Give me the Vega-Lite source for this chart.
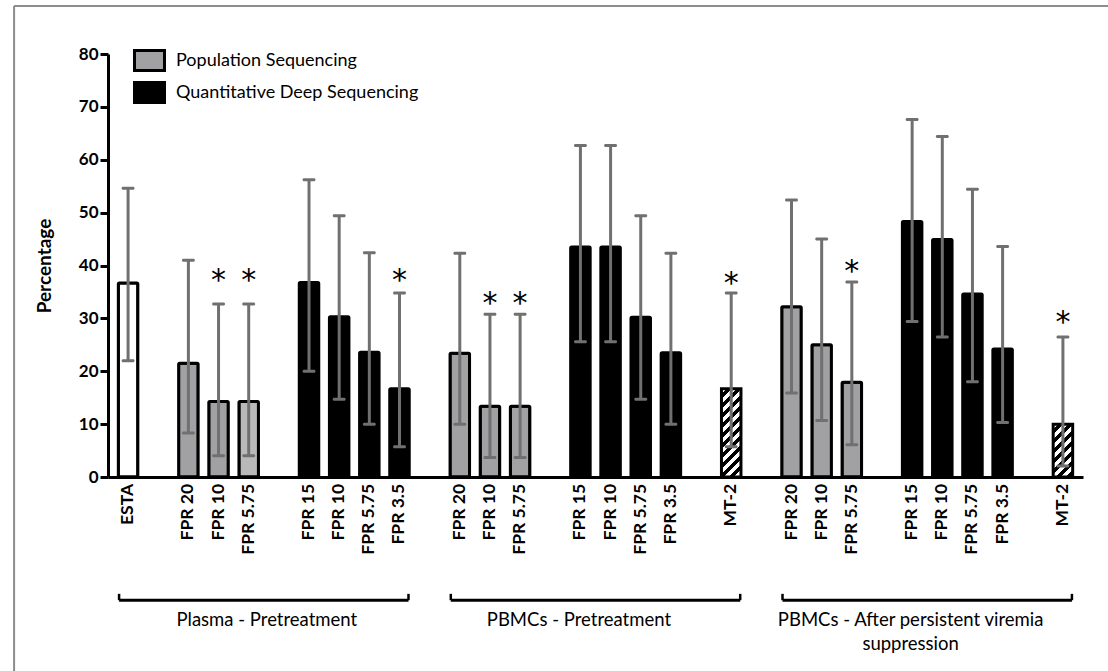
{
  "$schema": "https://vega.github.io/schema/vega-lite/v6.json",
  "width": 975,
  "height": 423,
  "autosize": {"type": "none"},
  "padding": {"left": 108, "top": 54, "right": 25, "bottom": 194},
  "background": "white",
  "config": {"view": {"stroke": null}, "font": "Lato"},
  "datasets": {
    "bars": [
      {"slot": 0, "label": "ESTA", "group": "Plasma - Pretreatment", "method": "ESTA", "value": 36.7, "lo": 22.0, "hi": 54.6, "star": null},
      {"slot": 2, "label": "FPR 20", "group": "Plasma - Pretreatment", "method": "Population Sequencing", "value": 21.5, "lo": 8.3, "hi": 41.0, "star": null},
      {"slot": 3, "label": "FPR 10", "group": "Plasma - Pretreatment", "method": "Population Sequencing", "value": 14.3, "lo": 4.0, "hi": 32.7, "star": 38.8},
      {"slot": 4, "label": "FPR 5.75", "group": "Plasma - Pretreatment", "method": "Population Sequencing", "value": 14.3, "lo": 4.0, "hi": 32.7, "star": 38.8},
      {"slot": 6, "label": "FPR 15", "group": "Plasma - Pretreatment", "method": "Quantitative Deep Sequencing", "value": 36.8, "lo": 20.0, "hi": 56.2, "star": null},
      {"slot": 7, "label": "FPR 10", "group": "Plasma - Pretreatment", "method": "Quantitative Deep Sequencing", "value": 30.3, "lo": 14.7, "hi": 49.4, "star": null},
      {"slot": 8, "label": "FPR 5.75", "group": "Plasma - Pretreatment", "method": "Quantitative Deep Sequencing", "value": 23.6, "lo": 10.0, "hi": 42.4, "star": null},
      {"slot": 9, "label": "FPR 3.5", "group": "Plasma - Pretreatment", "method": "Quantitative Deep Sequencing", "value": 16.7, "lo": 5.7, "hi": 34.8, "star": 38.8},
      {"slot": 11, "label": "FPR 20", "group": "PBMCs - Pretreatment", "method": "Population Sequencing", "value": 23.4, "lo": 10.0, "hi": 42.3, "star": null},
      {"slot": 12, "label": "FPR 10", "group": "PBMCs - Pretreatment", "method": "Population Sequencing", "value": 13.4, "lo": 3.7, "hi": 30.8, "star": 34.4},
      {"slot": 13, "label": "FPR 5.75", "group": "PBMCs - Pretreatment", "method": "Population Sequencing", "value": 13.4, "lo": 3.7, "hi": 30.8, "star": 34.4},
      {"slot": 15, "label": "FPR 15", "group": "PBMCs - Pretreatment", "method": "Quantitative Deep Sequencing", "value": 43.5, "lo": 25.6, "hi": 62.7, "star": null},
      {"slot": 16, "label": "FPR 10", "group": "PBMCs - Pretreatment", "method": "Quantitative Deep Sequencing", "value": 43.5, "lo": 25.6, "hi": 62.7, "star": null},
      {"slot": 17, "label": "FPR 5.75", "group": "PBMCs - Pretreatment", "method": "Quantitative Deep Sequencing", "value": 30.2, "lo": 14.7, "hi": 49.4, "star": null},
      {"slot": 18, "label": "FPR 3.5", "group": "PBMCs - Pretreatment", "method": "Quantitative Deep Sequencing", "value": 23.5, "lo": 10.0, "hi": 42.3, "star": null},
      {"slot": 20, "label": "MT-2", "group": "PBMCs - Pretreatment", "method": "MT-2", "value": 16.7, "lo": 5.7, "hi": 34.8, "star": 38.2},
      {"slot": 22, "label": "FPR 20", "group": "PBMCs - After persistent viremia suppression", "method": "Population Sequencing", "value": 32.2, "lo": 15.9, "hi": 52.4, "star": null},
      {"slot": 23, "label": "FPR 10", "group": "PBMCs - After persistent viremia suppression", "method": "Population Sequencing", "value": 25.0, "lo": 10.7, "hi": 45.0, "star": null},
      {"slot": 24, "label": "FPR 5.75", "group": "PBMCs - After persistent viremia suppression", "method": "Population Sequencing", "value": 17.9, "lo": 6.1, "hi": 36.9, "star": 40.5},
      {"slot": 26, "label": "FPR 15", "group": "PBMCs - After persistent viremia suppression", "method": "Quantitative Deep Sequencing", "value": 48.3, "lo": 29.4, "hi": 67.6, "star": null},
      {"slot": 27, "label": "FPR 10", "group": "PBMCs - After persistent viremia suppression", "method": "Quantitative Deep Sequencing", "value": 44.9, "lo": 26.5, "hi": 64.4, "star": null},
      {"slot": 28, "label": "FPR 5.75", "group": "PBMCs - After persistent viremia suppression", "method": "Quantitative Deep Sequencing", "value": 34.6, "lo": 18.0, "hi": 54.4, "star": null},
      {"slot": 29, "label": "FPR 3.5", "group": "PBMCs - After persistent viremia suppression", "method": "Quantitative Deep Sequencing", "value": 24.2, "lo": 10.3, "hi": 43.6, "star": null},
      {"slot": 31, "label": "MT-2", "group": "PBMCs - After persistent viremia suppression", "method": "MT-2", "value": 10.0, "lo": 2.1, "hi": 26.5, "star": 30.8}
    ],
    "groups": [
      {"group": "Plasma - Pretreatment", "text": "Plasma - Pretreatment", "first": 0, "last": 9, "center": 4.6},
      {"group": "PBMCs - Pretreatment", "text": "PBMCs - Pretreatment", "first": 11, "last": 20, "center": 14.95},
      {"group": "PBMCs - After persistent viremia suppression", "text": "PBMCs - After persistent viremia\nsuppression", "first": 22, "last": 31, "center": 25.95}
    ]
  },
  "layer": [
    {
      "data": {"name": "bars"},
      "transform": [{"filter": "datum.method !== 'MT-2'"}],
      "mark": {"type": "bar", "size": 19.5, "stroke": "black", "strokeWidth": 3, "cornerRadius": 1},
      "encoding": {
        "x": {
          "field": "slot", "type": "quantitative",
          "scale": {"domain": [-0.5, 31.5]},
          "axis": {"ticks": false, "labels": false, "grid": false, "title": null, "domain": true, "domainColor": "black", "domainWidth": 3}
        },
        "y": {
          "field": "value", "type": "quantitative",
          "scale": {"domain": [0, 80]},
          "axis": {
            "values": [0, 10, 20, 30, 40, 50, 60, 70, 80],
            "grid": false, "title": "Percentage", "domain": true,
            "domainColor": "black", "domainWidth": 3,
            "ticks": true, "tickColor": "black", "tickWidth": 3, "tickSize": 8,
            "labels": true, "labelFont": "Lato", "labelFontSize": 17, "labelFontWeight": "bold", "labelColor": "black", "labelPadding": 2,
            "titleFont": "Lato", "titleFontSize": 19, "titleFontWeight": "bold", "titleColor": "black", "titlePadding": 24
          }
        },
        "fill": {
          "field": "method", "type": "nominal",
          "scale": {"domain": ["Population Sequencing", "Quantitative Deep Sequencing", "ESTA"], "range": ["#a1a1a3", "#000000", "#ffffff"]},
          "condition": {"test": "datum.slot === 4", "value": "#b9b9b9"},
          "legend": {
            "values": ["Population Sequencing", "Quantitative Deep Sequencing"],
            "title": null, "orient": "none", "legendX": 30, "legendY": -5,
            "padding": 0,
            "symbolType": "M-1.5,-1H1.5V1H-1.5Z", "symbolSize": 400,
            "symbolStrokeColor": "black", "symbolStrokeWidth": 3, "symbolOpacity": 1,
            "labelFont": "Lato", "labelFontSize": 18, "labelColor": "black", "labelOffset": 15, "labelLimit": 0,
            "rowPadding": -1
          }
        }
      }
    },
    {
      "data": {"values": [{}]},
      "mark": {"type": "rule", "color": "#8c8c8c", "strokeWidth": 2},
      "encoding": {
        "x": {"datum": -3.78, "type": "quantitative", "scale": {"domain": [-0.5, 31.5]}},
        "y": {"datum": 89.1, "type": "quantitative", "scale": {"domain": [0, 80]}},
        "y2": {"datum": -40}
      }
    },
    {
      "data": {"values": [{}]},
      "mark": {"type": "rule", "color": "#8c8c8c", "strokeWidth": 2},
      "encoding": {
        "x": {"datum": -3.78, "type": "quantitative", "scale": {"domain": [-0.5, 31.5]}},
        "x2": {"datum": 40},
        "y": {"datum": 89.1, "type": "quantitative", "scale": {"domain": [0, 80]}}
      }
    },
    {
      "data": {"name": "bars"},
      "transform": [{"filter": "datum.slot === 20"}],
      "mark": {
        "type": "bar", "size": 19.5, "stroke": "black", "strokeWidth": 3,
        "fill": {"gradient": "linear", "x1": 0, "y1": 0, "x2": 0.286, "y2": 1.296, "stops": [
          {"offset": 0, "color": "white"}, {"offset": 0.0458, "color": "white"}, {"offset": 0.0458, "color": "black"}, {"offset": 0.0833, "color": "black"},
          {"offset": 0.0833, "color": "white"}, {"offset": 0.1292, "color": "white"}, {"offset": 0.1292, "color": "black"}, {"offset": 0.1667, "color": "black"},
          {"offset": 0.1667, "color": "white"}, {"offset": 0.2125, "color": "white"}, {"offset": 0.2125, "color": "black"}, {"offset": 0.25, "color": "black"},
          {"offset": 0.25, "color": "white"}, {"offset": 0.2958, "color": "white"}, {"offset": 0.2958, "color": "black"}, {"offset": 0.3333, "color": "black"},
          {"offset": 0.3333, "color": "white"}, {"offset": 0.3792, "color": "white"}, {"offset": 0.3792, "color": "black"}, {"offset": 0.4167, "color": "black"},
          {"offset": 0.4167, "color": "white"}, {"offset": 0.4625, "color": "white"}, {"offset": 0.4625, "color": "black"}, {"offset": 0.5, "color": "black"},
          {"offset": 0.5, "color": "white"}, {"offset": 0.5458, "color": "white"}, {"offset": 0.5458, "color": "black"}, {"offset": 0.5833, "color": "black"},
          {"offset": 0.5833, "color": "white"}, {"offset": 0.6292, "color": "white"}, {"offset": 0.6292, "color": "black"}, {"offset": 0.6667, "color": "black"},
          {"offset": 0.6667, "color": "white"}, {"offset": 0.7125, "color": "white"}, {"offset": 0.7125, "color": "black"}, {"offset": 0.75, "color": "black"},
          {"offset": 0.75, "color": "white"}, {"offset": 0.7958, "color": "white"}, {"offset": 0.7958, "color": "black"}, {"offset": 0.8333, "color": "black"},
          {"offset": 0.8333, "color": "white"}, {"offset": 0.8792, "color": "white"}, {"offset": 0.8792, "color": "black"}, {"offset": 0.9167, "color": "black"},
          {"offset": 0.9167, "color": "white"}, {"offset": 0.9625, "color": "white"}, {"offset": 0.9625, "color": "black"}, {"offset": 1, "color": "black"}
        ]}
      },
      "encoding": {
        "x": {"field": "slot", "type": "quantitative", "scale": {"domain": [-0.5, 31.5]}},
        "y": {"field": "value", "type": "quantitative", "scale": {"domain": [0, 80]}}
      }
    },
    {
      "data": {"name": "bars"},
      "transform": [{"filter": "datum.slot === 31"}],
      "mark": {
        "type": "bar", "size": 19.5, "stroke": "black", "strokeWidth": 3,
        "fill": {"gradient": "linear", "x1": 0, "y1": 0, "x2": 0.736, "y2": 1.997, "stops": [
          {"offset": 0, "color": "white"}, {"offset": 0.0458, "color": "white"}, {"offset": 0.0458, "color": "black"}, {"offset": 0.0833, "color": "black"},
          {"offset": 0.0833, "color": "white"}, {"offset": 0.1292, "color": "white"}, {"offset": 0.1292, "color": "black"}, {"offset": 0.1667, "color": "black"},
          {"offset": 0.1667, "color": "white"}, {"offset": 0.2125, "color": "white"}, {"offset": 0.2125, "color": "black"}, {"offset": 0.25, "color": "black"},
          {"offset": 0.25, "color": "white"}, {"offset": 0.2958, "color": "white"}, {"offset": 0.2958, "color": "black"}, {"offset": 0.3333, "color": "black"},
          {"offset": 0.3333, "color": "white"}, {"offset": 0.3792, "color": "white"}, {"offset": 0.3792, "color": "black"}, {"offset": 0.4167, "color": "black"},
          {"offset": 0.4167, "color": "white"}, {"offset": 0.4625, "color": "white"}, {"offset": 0.4625, "color": "black"}, {"offset": 0.5, "color": "black"},
          {"offset": 0.5, "color": "white"}, {"offset": 0.5458, "color": "white"}, {"offset": 0.5458, "color": "black"}, {"offset": 0.5833, "color": "black"},
          {"offset": 0.5833, "color": "white"}, {"offset": 0.6292, "color": "white"}, {"offset": 0.6292, "color": "black"}, {"offset": 0.6667, "color": "black"},
          {"offset": 0.6667, "color": "white"}, {"offset": 0.7125, "color": "white"}, {"offset": 0.7125, "color": "black"}, {"offset": 0.75, "color": "black"},
          {"offset": 0.75, "color": "white"}, {"offset": 0.7958, "color": "white"}, {"offset": 0.7958, "color": "black"}, {"offset": 0.8333, "color": "black"},
          {"offset": 0.8333, "color": "white"}, {"offset": 0.8792, "color": "white"}, {"offset": 0.8792, "color": "black"}, {"offset": 0.9167, "color": "black"},
          {"offset": 0.9167, "color": "white"}, {"offset": 0.9625, "color": "white"}, {"offset": 0.9625, "color": "black"}, {"offset": 1, "color": "black"}
        ]}
      },
      "encoding": {
        "x": {"field": "slot", "type": "quantitative", "scale": {"domain": [-0.5, 31.5]}},
        "y": {"field": "value", "type": "quantitative", "scale": {"domain": [0, 80]}}
      }
    },
    {
      "data": {"name": "bars"},
      "mark": {"type": "rule", "color": "#707070", "strokeWidth": 3},
      "encoding": {
        "x": {"field": "slot", "type": "quantitative", "scale": {"domain": [-0.5, 31.5]}},
        "y": {"field": "lo", "type": "quantitative", "scale": {"domain": [0, 80]}},
        "y2": {"field": "hi"}
      }
    },
    {
      "data": {"name": "bars"},
      "mark": {"type": "tick", "orient": "horizontal", "color": "#707070", "size": 13, "thickness": 3, "opacity": 1, "cornerRadius": 1.5},
      "encoding": {
        "x": {"field": "slot", "type": "quantitative", "scale": {"domain": [-0.5, 31.5]}},
        "y": {"field": "lo", "type": "quantitative", "scale": {"domain": [0, 80]}}
      }
    },
    {
      "data": {"name": "bars"},
      "mark": {"type": "tick", "orient": "horizontal", "color": "#707070", "size": 13, "thickness": 3, "opacity": 1, "cornerRadius": 1.5},
      "encoding": {
        "x": {"field": "slot", "type": "quantitative", "scale": {"domain": [-0.5, 31.5]}},
        "y": {"field": "hi", "type": "quantitative", "scale": {"domain": [0, 80]}}
      }
    },
    {
      "data": {"name": "bars"},
      "transform": [{"filter": "datum.star != null"}],
      "mark": {"type": "text", "text": "*", "font": "DejaVu Sans", "fontSize": 30, "color": "black", "baseline": "middle", "align": "center", "dy": 9},
      "encoding": {
        "x": {"field": "slot", "type": "quantitative", "scale": {"domain": [-0.5, 31.5]}},
        "y": {"field": "star", "type": "quantitative", "scale": {"domain": [0, 80]}}
      }
    },
    {
      "data": {"name": "bars"},
      "mark": {"type": "text", "angle": 270, "align": "right", "baseline": "middle", "font": "Lato", "fontSize": 17.5, "fontWeight": "bold", "color": "black"},
      "encoding": {
        "x": {"field": "slot", "type": "quantitative", "scale": {"domain": [-0.5, 31.5]}},
        "y": {"datum": -1.3, "type": "quantitative", "scale": {"domain": [0, 80]}},
        "text": {"field": "label"}
      }
    },
    {
      "data": {"name": "groups"},
      "mark": {"type": "rule", "color": "black", "strokeWidth": 3, "xOffset": -9, "x2Offset": 9},
      "encoding": {
        "x": {"field": "first", "type": "quantitative", "scale": {"domain": [-0.5, 31.5]}},
        "x2": {"field": "last"},
        "y": {"datum": -23.3, "type": "quantitative", "scale": {"domain": [0, 80]}}
      }
    },
    {
      "data": {"name": "groups"},
      "mark": {"type": "rule", "color": "black", "strokeWidth": 2.5, "xOffset": -9},
      "encoding": {
        "x": {"field": "first", "type": "quantitative", "scale": {"domain": [-0.5, 31.5]}},
        "y": {"datum": -23.3, "type": "quantitative", "scale": {"domain": [0, 80]}},
        "y2": {"datum": -22.1}
      }
    },
    {
      "data": {"name": "groups"},
      "mark": {"type": "rule", "color": "black", "strokeWidth": 2.5, "xOffset": 9},
      "encoding": {
        "x": {"field": "last", "type": "quantitative", "scale": {"domain": [-0.5, 31.5]}},
        "y": {"datum": -23.3, "type": "quantitative", "scale": {"domain": [0, 80]}},
        "y2": {"datum": -22.1}
      }
    },
    {
      "data": {"name": "groups"},
      "mark": {"type": "text", "baseline": "top", "align": "center", "lineBreak": "\n", "lineHeight": 24, "font": "Lato", "fontSize": 18.5, "color": "black"},
      "encoding": {
        "x": {"field": "center", "type": "quantitative", "scale": {"domain": [-0.5, 31.5]}},
        "y": {"datum": -25.4, "type": "quantitative", "scale": {"domain": [0, 80]}},
        "text": {"field": "text"}
      }
    }
  ]
}
